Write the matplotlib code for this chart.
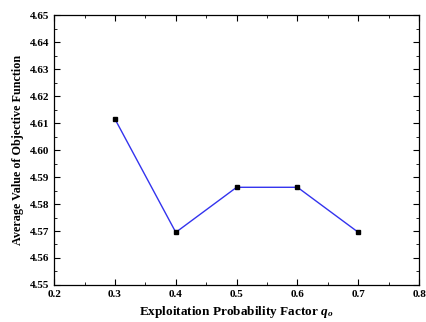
import matplotlib
matplotlib.use('Agg')
import matplotlib.pyplot as plt
from matplotlib.ticker import MultipleLocator

q_values = [0.3, 0.4, 0.5, 0.6, 0.7]
avg_objective = [4.6115, 4.5695, 4.5862, 4.5862, 4.5695]

plt.rcParams['font.family'] = 'Liberation Serif'
plt.rcParams['font.weight'] = 'bold'
plt.rcParams['mathtext.fontset'] = 'custom'
plt.rcParams['mathtext.it'] = 'Liberation Serif:italic:bold'
plt.rcParams['mathtext.rm'] = 'Liberation Serif:bold'

fig = plt.figure(figsize=(4.26, 3.22), dpi=100)
ax = fig.add_axes([0.127, 0.115, 0.857, 0.838])
ax.plot(q_values, avg_objective, color='#3333ee', lw=1.0,
        marker='s', markersize=3.5, markerfacecolor='black', markeredgecolor='black')

ax.set_xlim(0.2, 0.8)
ax.set_ylim(4.55, 4.65)
ax.xaxis.set_major_locator(MultipleLocator(0.1))
ax.xaxis.set_minor_locator(MultipleLocator(0.05))
ax.yaxis.set_major_locator(MultipleLocator(0.01))
ax.yaxis.set_minor_locator(MultipleLocator(0.005))
ax.tick_params(which='both', direction='in', top=True, right=True, labelsize=8)
ax.tick_params(which='major', length=4)
ax.tick_params(which='minor', length=2)
ax.xaxis.set_major_formatter(plt.FuncFormatter(lambda v, p: f'{v:.1f}'))
ax.yaxis.set_major_formatter(plt.FuncFormatter(lambda v, p: f'{v:.2f}'))
for s in ax.spines.values():
    s.set_linewidth(0.9)

ax.set_xlabel('Exploitation Probability Factor $q_o$', fontsize=9.5, fontweight='bold')
ax.set_ylabel('Average Value of Objective Function', fontsize=8.7, fontweight='bold')

fig.savefig('out.png', dpi=100)
